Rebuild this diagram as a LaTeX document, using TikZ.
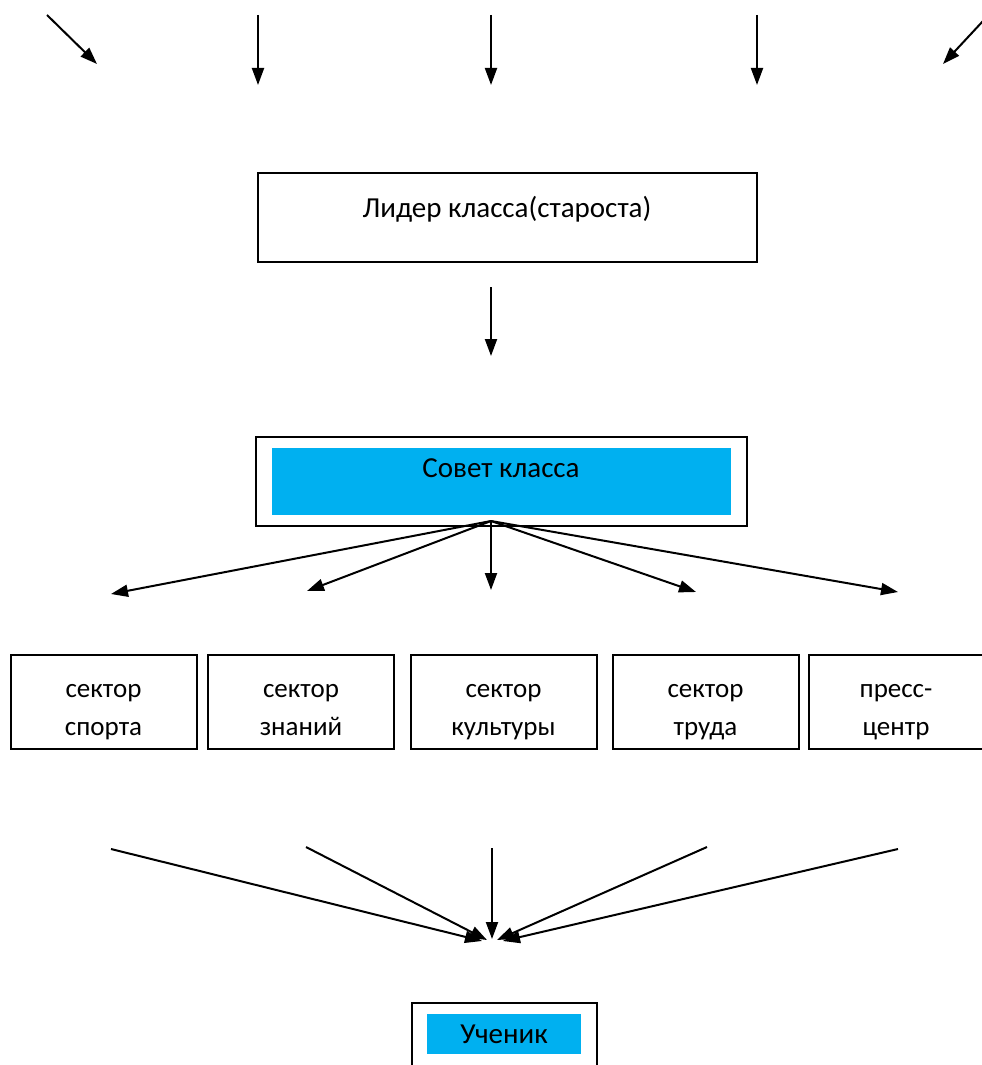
\documentclass[tikz,border=0pt]{standalone}
\usepackage{fontspec}
\setmainfont{Carlito}
\usetikzlibrary{arrows.meta, positioning}
\definecolor{wordblue}{HTML}{00B0F0}
\tikzstyle{box} = [rectangle, draw, line width=2pt, inner sep=0pt]
\tikzstyle{sector} = [box, minimum width=186pt, minimum height=94pt]
\tikzstyle{sectortext} = [align=center, inner sep=0pt, font=\fontsize{27}{38}\selectfont]
\tikzstyle{bluebox} = [rectangle, fill=wordblue, inner sep=0pt, text centered]
\tikzstyle{boxtext} = [anchor=base, inner sep=0pt]
\tikzstyle{arrow} = [line width=2pt, -{Triangle[length=17pt,width=12pt]}]

\begin{document}
\begin{tikzpicture}[x=1pt, y=-1pt, font=\fontsize{29}{35}\selectfont]
    \useasboundingbox (0,0) rectangle (982,1065);

    % incoming arrows at the top
    \coordinate (top1) at (47,15);   \coordinate (head1) at (97,64);
    \coordinate (top2) at (258,15);  \coordinate (head2) at (258,85);
    \coordinate (top3) at (491,15);  \coordinate (head3) at (491,85);
    \coordinate (top4) at (757,15);  \coordinate (head4) at (757,85);
    \coordinate (top5) at (983,21);  \coordinate (head5) at (943,64);

    \node [box, minimum width=499pt, minimum height=89pt] at (507.5,217.5) (leader) {};
    \node [boxtext] at (507,217) (leadertext) {Лидер класса(староста)};

    \coordinate (leaderfoot) at (491,287);
    \coordinate (sovethead) at (491,356);

    \node [box, line width=2.5pt, minimum width=491pt, minimum height=89pt] at (501.5,481.5) (sovet) {};
    \node [bluebox, minimum width=459pt, minimum height=67pt] at (501.5,481.5) (sovetfill) {};
    \node [boxtext] at (501,477) (sovettext) {Совет класса};

    \coordinate (sovetfoot) at (491,521);
    \coordinate (sport in) at (111,594);
    \coordinate (znan in) at (307,591);
    \coordinate (kult in) at (491,590);
    \coordinate (trud in) at (696,592);
    \coordinate (press in) at (898,592);

    % sectors
    \node [sector] at (103.5,702) (sport) {};
    \node [sector] at (301,702) (znan) {};
    \node [sector] at (503.5,702) (kult) {};
    \node [sector] at (705.5,702) (trud) {};
    \node [sector, minimum width=181pt] at (899.5,702) (press) {};
    \node [sectortext] at (103.5,708.4) (sport text) {\strut сектор\\спорта\strut};
    \node [sectortext] at (301,708.4) (znan text) {\strut сектор\\знаний\strut};
    \node [sectortext] at (503.5,708.4) (kult text) {\strut сектор\\культуры\strut};
    \node [sectortext] at (705.5,708.4) (trud text) {\strut сектор\\труда\strut};
    \node [sectortext] at (896,708.4) (press text) {\strut пресс-\\центр\strut};

    \coordinate (sport out) at (111,849);
    \coordinate (znan out) at (306,847);
    \coordinate (kult out) at (492,848);
    \coordinate (trud out) at (707,847);
    \coordinate (press out) at (898,849);
    \coordinate (pupil1) at (482,941);
    \coordinate (pupil2) at (487,940);
    \coordinate (pupil3) at (492,939);
    \coordinate (pupil4) at (497,940);
    \coordinate (pupil5) at (503,941);

    \node [box, line width=2.5pt, minimum width=185pt, minimum height=80pt] at (504.5,1043) (pupil) {};
    \node [bluebox, minimum width=154pt, minimum height=40pt] at (504,1034) (pupilfill) {Ученик};

    \draw [arrow] (top1) -- (head1);
    \draw [arrow] (top2) -- (head2);
    \draw [arrow] (top3) -- (head3);
    \draw [arrow] (top4) -- (head4);
    \draw [arrow] (top5) -- (head5);
    \draw [arrow] (leaderfoot) -- (sovethead);
    \draw [arrow] (sovetfoot) -- (sport in);
    \draw [arrow] (sovetfoot) -- (znan in);
    \draw [arrow] (sovetfoot) -- (kult in);
    \draw [arrow] (sovetfoot) -- (trud in);
    \draw [arrow] (sovetfoot) -- (press in);
    \draw [arrow] (sport out) -- (pupil1);
    \draw [arrow] (znan out) -- (pupil2);
    \draw [arrow] (kult out) -- (pupil3);
    \draw [arrow] (trud out) -- (pupil4);
    \draw [arrow] (press out) -- (pupil5);
\end{tikzpicture}
\end{document}
